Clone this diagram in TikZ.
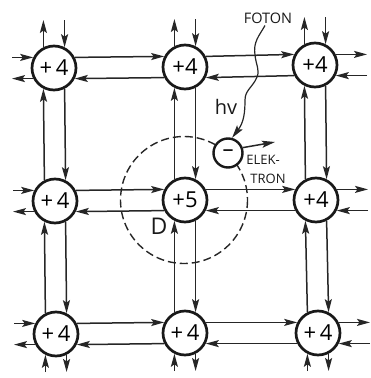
\documentclass[tikz,border=0pt]{standalone}
\usepackage{fontspec}
\setmainfont{Open Sans}
\usetikzlibrary{arrows.meta,calc}
\tikzset{
  atom/.style={circle,draw=black!90,line width=2.7pt,fill=white,minimum size=44pt,inner sep=0pt,font=\fontsize{22}{22}\selectfont},
  bond/.style={draw=black!85,line width=1.5pt,-{Stealth[length=13pt,width=7pt,inset=2.5pt]}},
  lbl/.style={inner sep=0pt,text=black!90},
  dashc/.style={draw=black!85,line width=1.4pt,dash pattern=on 8pt off 4pt},
}
\newcommand{\stubN}[1]{%
  \coordinate (#1-na) at ($(#1)+(-10,-48)$);\coordinate (#1-nb) at ($(#1)+(10,-48)$);
  \draw[bond] (#1.117) -- (#1.117 |- #1-na);
  \draw[bond] (#1-nb -| #1.63) -- (#1.63);}
\newcommand{\stubS}[1]{%
  \coordinate (#1-sa) at ($(#1)+(-10,38)$);\coordinate (#1-sb) at ($(#1)+(10,38)$);
  \draw[bond] (#1-sa -| #1.243) -- (#1.243);
  \draw[bond] (#1.297) -- (#1.297 |- #1-sb);}
\newcommand{\stubW}[1]{%
  \coordinate (#1-wa) at ($(#1)+(-42,-10)$);\coordinate (#1-wb) at ($(#1)+(-42,10)$);
  \draw[bond] (#1-wa |- #1.153) -- (#1.153);
  \draw[bond] (#1.207) -- (#1-wb |- #1.207);}
\newcommand{\stubE}[1]{%
  \coordinate (#1-ea) at ($(#1)+(52,-10)$);\coordinate (#1-eb) at ($(#1)+(52,10)$);
  \draw[bond] (#1.27) -- (#1-ea |- #1.27);
  \draw[bond] (#1-eb |- #1.333) -- (#1.333);}
\newcommand{\hbonds}[2]{%
  \draw[bond] (#1.27) -- (#2.153);
  \draw[bond] (#2.207) -- (#1.333);}
\newcommand{\vbonds}[2]{%
  \draw[bond] (#2.117) -- (#1.243);
  \draw[bond] (#1.297) -- (#2.63);}
\begin{document}
\begin{tikzpicture}[x=1pt,y=-1pt]
\useasboundingbox (0,0) rectangle (370,378);
\draw[dashc] (184,200) circle (63.5);
\node[atom] (tl) at (54,68) {+\,4};
\node[atom] (tm) at (185,67) {+4};
\node[atom] (tr) at (315,65) {+4};
\node[atom] (ml) at (55,201) {+\,4};
\node[atom] (mm) at (185,200) {+5};
\node[atom] (mr) at (316,200) {+4};
\node[atom] (bl) at (56,334) {+\,4};
\node[atom] (bm) at (185,333) {+\,4};
\node[atom] (br) at (318,333) {+\,4};
\node[atom,minimum size=29pt,line width=2.4pt] (el) at (228,153) {–};
\hbonds{tl}{tm}\hbonds{tm}{tr}
\hbonds{ml}{mm}\hbonds{mm}{mr}
\hbonds{bl}{bm}\hbonds{bm}{br}
\vbonds{tl}{ml}\vbonds{tm}{mm}\vbonds{tr}{mr}
\vbonds{ml}{bl}\vbonds{mm}{bm}\vbonds{mr}{br}
\stubN{tl}\stubN{tm}\stubN{tr}
\stubS{bl}\stubS{bm}\stubS{br}
\stubW{tl}\stubW{ml}\stubW{bl}
\stubE{tr}\stubE{mr}\stubE{br}
\node[lbl,font=\fontsize{14.5}{15}\selectfont] (foton) at (268,18) {FOTON};
\node[lbl,font=\fontsize{20}{20}\selectfont] (hv) at (226,107) {hv};
\node[lbl,font=\fontsize{13}{13}\selectfont] (elek) at (263,160) {ELEK-};
\node[lbl,font=\fontsize{13}{13}\selectfont] (tron) at (268,179) {TRON};
\node[lbl,font=\fontsize{23}{23}\selectfont] (d) at (159,226) {D};
\coordinate (eout) at (275,142);
\draw[bond] (el.20) -- (eout);
\draw[bond,line width=1.2pt] (foton.south) ++(-3,2) .. controls (259,36) and (253,42) .. (255,55)
  .. controls (256,65) and (260,70) .. (257,77)
  .. controls (253,87) and (245,90) .. (245,100)
  .. controls (245,112) and (244,122) .. (el.75);
\end{tikzpicture}
\end{document}
